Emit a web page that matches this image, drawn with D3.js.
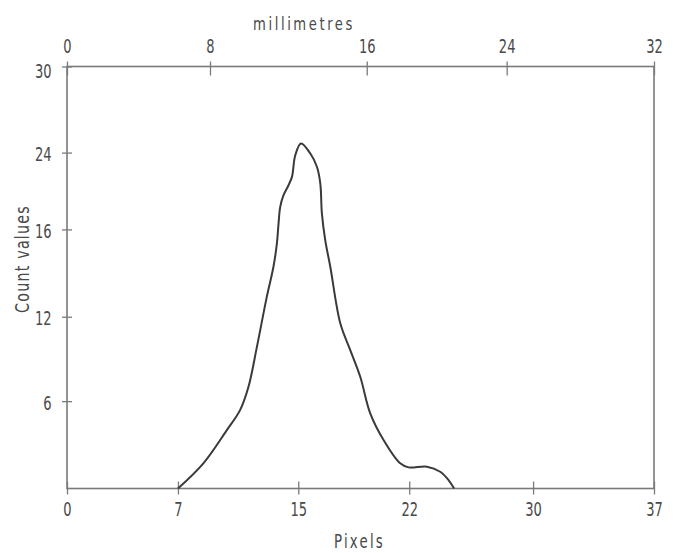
<!DOCTYPE html>
<html><head><meta charset="utf-8">
<script src="https://cdn.jsdelivr.net/npm/d3@7"></script>
<style>
html,body{margin:0;padding:0;background:#fff;}
text{font-family:"DejaVu Sans Condensed","DejaVu Sans",sans-serif;font-stretch:condensed;fill:#4a4a4a;}
</style></head><body>
<svg id="c" width="673" height="553"></svg>
<script>
// Bottom axis (Pixels) tick labels and their relative positions along the axis
const pixelTicks = [0, 7, 15, 22, 30, 37];
const pixelTickFrac = [0, 0.189, 0.394, 0.583, 0.794, 1];
// Top axis (millimetres)
const mmTicks = [0, 8, 16, 24, 32];
const mmTickFrac = [0, 0.2436, 0.5106, 0.749, 1];
// Left axis (Count values)
const countTicks = [0, 6, 12, 16, 24, 30];
const countTickFrac = [0, 0.207, 0.407, 0.614, 0.796, 1];
const countLabels = [6, 12, 16, 24, 30];

// Curve: x in Pixels, y in Count values
const curveX = [7, 8.69, 10.25, 11.13, 11.69, 12.25, 12.91, 13.35, 13.58, 13.69, 13.8, 14.02, 14.35, 14.58, 14.8, 15.17, 15.76, 16.18, 16.39, 16.49, 16.7, 17.02, 17.65, 18.28, 18.91, 19.54, 20.38, 21.43, 21.96, 23.14, 24.0, 24.54, 24.9];
const curveY = [0, 1.73, 4.01, 5.38, 7.02, 9.86, 12.92, 14.29, 15.37, 16.65, 18.35, 19.56, 20.6, 21.47, 23.72, 24.63, 23.9, 22.5, 20.78, 17.66, 15.51, 14.29, 11.53, 9.63, 7.73, 5.16, 3.33, 1.73, 1.45, 1.5, 1.15, 0.58, 0];

const L = 67, R = 654, T = 66.5, B = 488.5;
const W = R - L, H = B - T;
const svg = d3.select("#c");
const g = svg.append("g").attr("transform", `translate(${L},${T})`);

const x = d3.scaleLinear().domain(pixelTicks).range(pixelTickFrac.map(f => f * W));
const xTop = d3.scaleLinear().domain(mmTicks).range(mmTickFrac.map(f => f * W));
const y = d3.scaleLinear().domain(countTicks).range(countTickFrac.map(f => H - f * H));

const axisColor = "#7a7a7a";

// frame
g.append("rect").attr("x", 0).attr("y", 0).attr("width", W).attr("height", H)
  .attr("fill", "none").attr("stroke", axisColor).attr("stroke-width", 1.6);

function styleAxis(sel) {
  sel.select(".domain").remove();
  sel.selectAll(".tick line").attr("stroke", axisColor).attr("stroke-width", 1.3);
  sel.selectAll(".tick text").style("font-size", "19px").attr("fill", "#4a4a4a")
    .attr("textLength", function() { return this.textContent.length * 8.3; })
    .attr("lengthAdjust", "spacingAndGlyphs");
}

const gx = g.append("g").attr("transform", `translate(0,${H})`)
  .call(d3.axisBottom(x).tickValues(pixelTicks).tickFormat(d3.format("d")).tickSize(6).tickPadding(8.5));
styleAxis(gx);
gx.selectAll(".tick line").attr("y1", -7).attr("y2", 6);

const gt = g.append("g")
  .call(d3.axisTop(xTop).tickValues(mmTicks).tickFormat(d3.format("d")).tickSize(6).tickPadding(7.5));
styleAxis(gt);
gt.selectAll(".tick line").attr("y1", -5).attr("y2", 9);

const gy = g.append("g")
  .call(d3.axisLeft(y).tickValues(countLabels).tickFormat(d3.format("d")).tickSize(5).tickPadding(10.5));
styleAxis(gy);
gy.selectAll(".tick line").attr("x1", 5).attr("x2", -5);
gy.selectAll(".tick text").attr("dy", d => d === 30 ? "0.6em" : "0.42em");

// curve
const pts = curveX.map((v, i) => [v, curveY[i]]);
g.append("path").datum(pts)
  .attr("fill", "none").attr("stroke", "#3a3a3a").attr("stroke-width", 2)
  .attr("stroke-linejoin", "round")
  .attr("d", d3.line().x(d => x(d[0])).y(d => y(d[1])).curve(d3.curveCatmullRom.alpha(0.5)));

// titles
svg.append("text").attr("x", 304).attr("y", 30).attr("text-anchor", "middle")
  .style("font-size", "17px").style("letter-spacing", "3px")
  .attr("textLength", 102).attr("lengthAdjust", "spacingAndGlyphs").text("millimetres");
svg.append("text").attr("x", 359.5).attr("y", 548).attr("text-anchor", "middle")
  .style("font-size", "20px").style("letter-spacing", "3px")
  .attr("textLength", 51).attr("lengthAdjust", "spacingAndGlyphs").text("Pixels");
svg.append("text").attr("transform", "translate(29,259) rotate(-90)").attr("text-anchor", "middle")
  .style("font-size", "19px").style("letter-spacing", "1.5px")
  .attr("textLength", 108).attr("lengthAdjust", "spacingAndGlyphs").text("Count values");
</script>
</body></html>
